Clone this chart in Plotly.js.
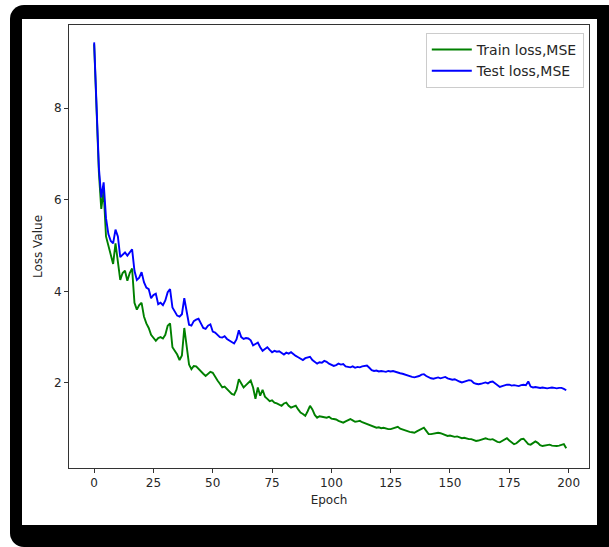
<!DOCTYPE html>
<html>
<head>
<meta charset="utf-8">
<script src="https://cdn.plot.ly/plotly-3.0.1.min.js"></script>
<style>
  html, body { margin: 0; padding: 0; background: #ffffff; width: 609px; height: 547px; overflow: hidden; }
  #frame { position: absolute; left: 10px; top: 5px; width: 612px; height: 542px; background: #000; border-radius: 14px; }
  #chart { position: absolute; left: 22px; top: 19px; width: 575px; height: 506px; background: #fff; }
</style>
</head>
<body>
<div id="frame"></div>
<div id="chart"></div>
<script>
const seriesNames = ["Train loss,MSE", "Test loss,MSE"];
const xTicks = [0, 25, 50, 75, 100, 125, 150, 175, 200];
const yTicks = [2, 4, 6, 8];

const trainLoss = [
9.40,7.85,6.60,5.80,6.20,5.20,5.00,4.75,4.60,5.05,
4.70,4.25,4.40,4.45,4.23,4.40,4.50,3.75,3.60,3.70,
3.75,3.45,3.30,3.20,3.05,2.98,2.92,2.98,3.00,2.97,
3.05,3.25,3.30,2.78,2.70,2.62,2.50,2.60,3.20,2.80,
2.40,2.30,2.37,2.36,2.30,2.25,2.20,2.15,2.20,2.24,
2.22,2.12,2.05,1.98,1.90,1.92,1.86,1.80,1.76,1.74,
1.85,2.08,1.98,1.90,1.95,2.00,2.05,1.90,1.65,1.90,
1.72,1.85,1.70,1.65,1.60,1.62,1.57,1.55,1.52,1.50,
1.55,1.57,1.50,1.46,1.48,1.50,1.42,1.35,1.32,1.28,
1.38,1.50,1.42,1.30,1.24,1.27,1.26,1.25,1.24,1.26,
1.22,1.21,1.20,1.17,1.15,1.13,1.16,1.19,1.21,1.18,
1.15,1.16,1.17,1.14,1.12,1.10,1.08,1.06,1.03,1.02,
1.03,1.01,1.02,1.00,0.99,0.99,1.01,1.03,1.04,1.00,
0.98,0.97,0.95,0.93,0.92,0.91,0.94,0.97,1.00,1.02,
0.95,0.88,0.88,0.89,0.90,0.91,0.90,0.88,0.86,0.84,
0.85,0.83,0.82,0.83,0.81,0.79,0.80,0.78,0.77,0.77,
0.75,0.73,0.74,0.76,0.78,0.79,0.77,0.76,0.77,0.74,
0.71,0.70,0.73,0.76,0.79,0.74,0.69,0.66,0.68,0.72,
0.77,0.78,0.72,0.66,0.65,0.68,0.72,0.69,0.64,0.62,
0.63,0.64,0.65,0.63,0.62,0.62,0.63,0.65,0.66,0.57
];

const testLoss = [
9.44,7.90,6.70,6.05,6.38,5.60,5.25,5.10,5.05,5.35,
5.20,4.75,4.80,4.85,4.78,4.85,4.92,4.45,4.25,4.30,
4.42,4.20,4.08,4.05,3.85,3.92,3.95,3.72,3.75,3.70,
3.80,3.98,4.05,3.65,3.55,3.47,3.45,3.50,3.85,3.60,
3.27,3.25,3.35,3.38,3.40,3.30,3.20,3.18,3.25,3.28,
3.12,3.10,3.05,3.00,2.99,3.02,2.96,2.92,2.90,2.86,
2.95,3.15,3.00,2.96,2.98,2.97,2.93,2.82,2.85,2.88,
2.78,2.70,2.74,2.78,2.72,2.67,2.70,2.68,2.69,2.65,
2.62,2.66,2.64,2.67,2.62,2.59,2.56,2.52,2.50,2.54,
2.56,2.57,2.50,2.46,2.42,2.45,2.44,2.48,2.46,2.42,
2.40,2.37,2.39,2.42,2.40,2.41,2.36,2.35,2.34,2.36,
2.33,2.35,2.34,2.36,2.37,2.38,2.33,2.28,2.26,2.27,
2.25,2.26,2.25,2.24,2.26,2.25,2.26,2.24,2.22,2.21,
2.20,2.18,2.16,2.14,2.13,2.12,2.13,2.15,2.18,2.19,
2.15,2.12,2.10,2.09,2.10,2.12,2.10,2.12,2.13,2.10,
2.08,2.07,2.08,2.05,2.03,2.01,2.03,2.05,2.06,2.05,
2.00,1.98,1.97,1.98,2.00,2.01,1.99,2.02,2.03,1.99,
1.95,1.91,1.93,1.95,1.96,1.96,1.94,1.95,1.94,1.93,
1.95,1.96,1.95,2.03,1.92,1.90,1.91,1.90,1.89,1.90,
1.89,1.88,1.89,1.90,1.89,1.88,1.89,1.89,1.87,1.84
];

const epochs = trainLoss.map((_, i) => i);

const traces = [
  { x: epochs, y: trainLoss, type: 'scatter', mode: 'lines', name: seriesNames[0],
    line: { color: '#008000', width: 1.9 } },
  { x: epochs, y: testLoss, type: 'scatter', mode: 'lines', name: seriesNames[1],
    line: { color: '#0000ff', width: 1.9 } }
];

const fontFam = 'DejaVu Sans, sans-serif';
const layout = {
  width: 575, height: 506,
  margin: { l: 47, r: 8, t: 6, b: 57 },
  paper_bgcolor: '#ffffff', plot_bgcolor: '#ffffff',
  font: { family: fontFam, size: 12, color: '#262626' },
  showlegend: true,
  legend: {
    x: 0.99, y: 0.982, xanchor: 'right', yanchor: 'top',
    bgcolor: 'rgba(255,255,255,0.8)', bordercolor: '#cccccc', borderwidth: 1,
    font: { family: fontFam, size: 14, color: '#262626' },
    tracegroupgap: 0, itemwidth: 40
  },
  xaxis: {
    range: [-10.6, 208.6], tickvals: xTicks, ticktext: xTicks.map(String),
    showgrid: false, zeroline: false, showline: true, mirror: true,
    linecolor: '#333', linewidth: 1, ticks: 'outside', ticklen: 4, tickcolor: '#333',
    title: { text: 'Epoch', font: { family: fontFam, size: 12, color: '#262626' }, standoff: 6 }
  },
  yaxis: {
    range: [0.14, 9.82], tickvals: yTicks, ticktext: yTicks.map(String),
    showgrid: false, zeroline: false, showline: true, mirror: true,
    linecolor: '#333', linewidth: 1, ticks: 'outside', ticklen: 4, tickcolor: '#333',
    title: { text: 'Loss Value', font: { family: fontFam, size: 12, color: '#262626' }, standoff: 8 }
  }
};

Plotly.newPlot('chart', traces, layout, { displayModeBar: false, staticPlot: true });
</script>
</body>
</html>
